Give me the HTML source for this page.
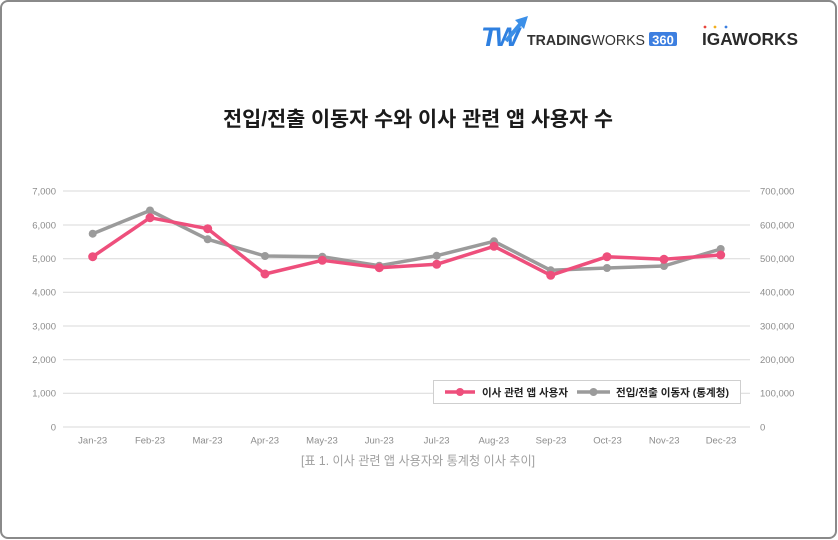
<!DOCTYPE html>
<html>
<head>
<meta charset="utf-8">
<style>
html,body{margin:0;padding:0;background:#fff;}
body{width:838px;height:540px;overflow:hidden;}
svg{display:block;}
text{font-family:"Liberation Sans","Noto Sans CJK KR",sans-serif;}
</style>
</head>
<body>
<svg width="838" height="540" viewBox="0 0 838 540" xmlns="http://www.w3.org/2000/svg">
  <rect x="1" y="1" width="835" height="537" rx="7" ry="7" fill="#fff" stroke="#8a8a8a" stroke-width="2"/>

  <!-- TW logo -->
  <g>
    <text x="481" y="46" font-size="27" font-weight="bold" font-style="italic" fill="#2f80e0" letter-spacing="-3">TW</text>
    <path d="M506 41 L522 22" stroke="#3b8fe8" stroke-width="4" fill="none"/>
    <path d="M515 20 L528 16 L524 29 Z" fill="#3b8fe8"/>
  </g>
  <text x="527" y="45" font-size="15" fill="#333" textLength="118" lengthAdjust="spacingAndGlyphs"><tspan font-weight="bold">TRADING</tspan><tspan>WORKS</tspan></text>
  <rect x="649" y="32" width="28" height="14" rx="2" fill="#3d7fe0"/>
  <text x="663" y="44.5" font-size="13" font-weight="bold" fill="#fff" text-anchor="middle">360</text>

  <!-- IGAWORKS logo -->
  <circle cx="705" cy="27" r="1.4" fill="#e8453c"/>
  <circle cx="715" cy="27" r="1.4" fill="#f2b01e"/>
  <circle cx="726" cy="27" r="1.4" fill="#3a7fe0"/>
  <text x="702" y="45" font-size="17.5" font-weight="bold" fill="#2a2a2a" textLength="96" lengthAdjust="spacingAndGlyphs">IGAWORKS</text>

  <!-- Title -->
  <text x="418" y="126" font-size="20.5" font-weight="bold" fill="#1a1a1a" text-anchor="middle" textLength="390" lengthAdjust="spacingAndGlyphs">전입/전출 이동자 수와 이사 관련 앱 사용자 수</text>

  <!-- gridlines -->
  <g stroke="#d9d9d9" stroke-width="1">
    <line x1="63" y1="191" x2="750" y2="191"/>
    <line x1="63" y1="225" x2="750" y2="225"/>
    <line x1="63" y1="258.7" x2="750" y2="258.7"/>
    <line x1="63" y1="292.3" x2="750" y2="292.3"/>
    <line x1="63" y1="326" x2="750" y2="326"/>
    <line x1="63" y1="359.7" x2="750" y2="359.7"/>
    <line x1="63" y1="393.3" x2="750" y2="393.3"/>
    <line x1="63" y1="427" x2="750" y2="427"/>
  </g>

  <!-- left axis labels -->
  <g font-size="9.5" fill="#8c8c8c" text-anchor="end">
    <text x="56" y="194.5">7,000</text>
    <text x="56" y="228.5">6,000</text>
    <text x="56" y="262">5,000</text>
    <text x="56" y="295.5">4,000</text>
    <text x="56" y="329.5">3,000</text>
    <text x="56" y="363">2,000</text>
    <text x="56" y="396.5">1,000</text>
    <text x="56" y="430.5">0</text>
  </g>
  <!-- right axis labels -->
  <g font-size="9.5" fill="#8c8c8c" text-anchor="start">
    <text x="760" y="194.5">700,000</text>
    <text x="760" y="228.5">600,000</text>
    <text x="760" y="262">500,000</text>
    <text x="760" y="295.5">400,000</text>
    <text x="760" y="329.5">300,000</text>
    <text x="760" y="363">200,000</text>
    <text x="760" y="396.5">100,000</text>
    <text x="760" y="430.5">0</text>
  </g>
  <!-- x labels -->
  <g font-size="9.5" fill="#8c8c8c" text-anchor="middle">
    <text x="92.7" y="443.5">Jan-23</text>
    <text x="150" y="443.5">Feb-23</text>
    <text x="207.5" y="443.5">Mar-23</text>
    <text x="264.8" y="443.5">Apr-23</text>
    <text x="322" y="443.5">May-23</text>
    <text x="379.3" y="443.5">Jun-23</text>
    <text x="436.6" y="443.5">Jul-23</text>
    <text x="493.8" y="443.5">Aug-23</text>
    <text x="551" y="443.5">Sep-23</text>
    <text x="607.5" y="443.5">Oct-23</text>
    <text x="664.2" y="443.5">Nov-23</text>
    <text x="721" y="443.5">Dec-23</text>
  </g>

  <!-- gray series -->
  <polyline fill="none" stroke="#9b9b9b" stroke-width="3.5" stroke-linejoin="round"
    points="92.7,233.7 150,210.5 207.7,239.3 265,256 322.3,256.7 379.3,265.7 436.7,255.7 494,241.3 550.7,270.3 607,268 664,266 720.7,249"/>
  <g fill="#9b9b9b">
    <circle cx="92.7" cy="233.7" r="4"/>
    <circle cx="150" cy="210.5" r="4"/>
    <circle cx="207.7" cy="239.3" r="4"/>
    <circle cx="265" cy="256" r="4"/>
    <circle cx="322.3" cy="256.7" r="4"/>
    <circle cx="379.3" cy="265.7" r="4"/>
    <circle cx="436.7" cy="255.7" r="4"/>
    <circle cx="494" cy="241.3" r="4"/>
    <circle cx="550.7" cy="270.3" r="4"/>
    <circle cx="607" cy="268" r="4"/>
    <circle cx="664" cy="266" r="4"/>
    <circle cx="720.7" cy="249" r="4"/>
  </g>

  <!-- pink series -->
  <polyline fill="none" stroke="#ee4f7c" stroke-width="3.5" stroke-linejoin="round"
    points="92.7,256.7 150,217.7 207.7,228.7 265,274 322.3,260.3 379.3,267.7 436.7,264.3 494,246.3 550.7,275.3 607,256.7 664,259.3 720.7,255"/>
  <g fill="#ee4f7c">
    <circle cx="92.7" cy="256.7" r="4.5"/>
    <circle cx="150" cy="217.7" r="4.5"/>
    <circle cx="207.7" cy="228.7" r="4.5"/>
    <circle cx="265" cy="274" r="4.5"/>
    <circle cx="322.3" cy="260.3" r="4.5"/>
    <circle cx="379.3" cy="267.7" r="4.5"/>
    <circle cx="436.7" cy="264.3" r="4.5"/>
    <circle cx="494" cy="246.3" r="4.5"/>
    <circle cx="550.7" cy="275.3" r="4.5"/>
    <circle cx="607" cy="256.7" r="4.5"/>
    <circle cx="664" cy="259.3" r="4.5"/>
    <circle cx="720.7" cy="255" r="4.5"/>
  </g>

  <!-- legend -->
  <rect x="433.5" y="380.5" width="307" height="23" fill="#fff" stroke="#cfcfcf" stroke-width="1"/>
  <line x1="445" y1="392" x2="475" y2="392" stroke="#ee4f7c" stroke-width="3.5"/>
  <circle cx="460" cy="392" r="4" fill="#ee4f7c"/>
  <text x="482" y="396" font-size="10.5" font-weight="bold" fill="#222" textLength="86" lengthAdjust="spacingAndGlyphs">이사 관련 앱 사용자</text>
  <line x1="577" y1="392" x2="610" y2="392" stroke="#9b9b9b" stroke-width="3.5"/>
  <circle cx="593.5" cy="392" r="4" fill="#9b9b9b"/>
  <text x="616" y="396" font-size="10.5" font-weight="bold" fill="#222" textLength="113" lengthAdjust="spacingAndGlyphs">전입/전출 이동자 (통계청)</text>

  <!-- caption -->
  <text x="301" y="465" font-size="12.5" fill="#a0a0a0" textLength="234" lengthAdjust="spacingAndGlyphs">[표 1. 이사 관련 앱 사용자와 통계청 이사 추이]</text>
</svg>
</body>
</html>
